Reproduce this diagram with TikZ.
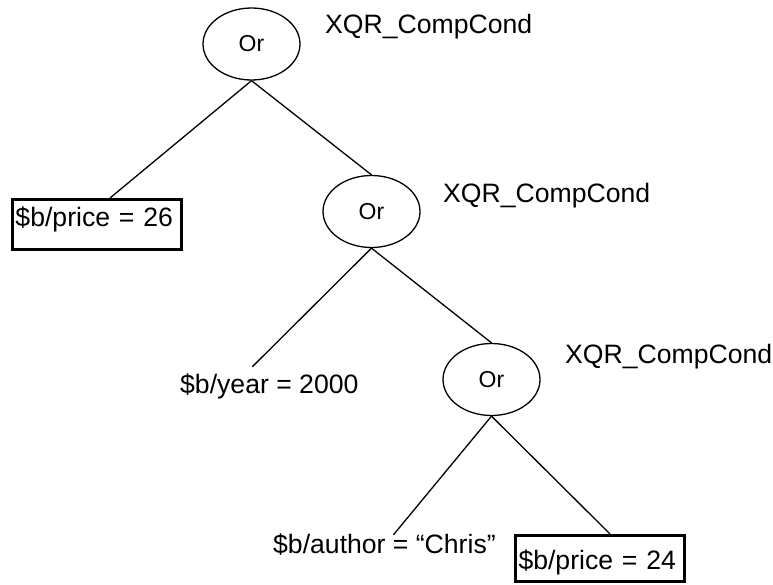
\documentclass[tikz,border=0pt]{standalone}
\usepackage{fontspec}
\setmainfont{Liberation Sans}
\usetikzlibrary{shapes.geometric}
\begin{document}
\begin{tikzpicture}[x=1pt,y=-1pt,
  ornode/.style={ellipse,draw,line width=1.3pt,minimum width=97pt,minimum height=72pt,
    inner sep=0pt,font=\fontsize{23}{27}\selectfont},
  tag/.style={anchor=base west,inner sep=0pt,font=\fontsize{26.6}{31}\selectfont},
  condbox/.style={draw,line width=3pt,inner xsep=3pt,inner ysep=0pt,text width=163pt,
    align=left,font=\fontsize{26.6}{31}\selectfont},
  branch/.style={line width=1.3pt}]
\useasboundingbox (0,0) rectangle (773,584);

% Or nodes of the condition tree
\node[ornode] (e1) at (251.5,44) {Or};
\node[ornode] (e2) at (371.5,211.5) {Or};
\node[ornode] (e3) at (491.5,379.5) {Or};

% type labels beside each Or node
\node[tag] (t1) at (325,33) {XQR\_CompCond};
\node[tag] (t2) at (443,202) {XQR\_CompCond};
\node[tag] (t3) at (565,363) {XQR\_CompCond};

% leaf conditions
\node[condbox,text height=26.5pt,text depth=23.5pt] (b1) at (97,224.5) {\$b/price = 26};
\node[condbox,text height=34.5pt,text depth=11.8pt] (b2) at (600,558.6) {\$b/price = 24};
\node[tag,text height=26pt] (year) at (180,393) {\$b/year = 2000};
\node[tag,text height=18pt] (author) at (273,553) {\$b/author = “Chris”};

% tree edges
\draw[branch] (e1.south) -- ([xshift=13pt]b1.north);
\draw[branch] (e1.south) -- (e2.north);
\draw[branch] (e2.south) -- ([xshift=-17pt]year.north);
\draw[branch] (e2.south) -- (e3.north);
\draw[branch] (e3.south) -- ([xshift=9pt]author.north);
\draw[branch] (e3.south) -- ([xshift=10pt]b2.north);
\end{tikzpicture}
\end{document}
